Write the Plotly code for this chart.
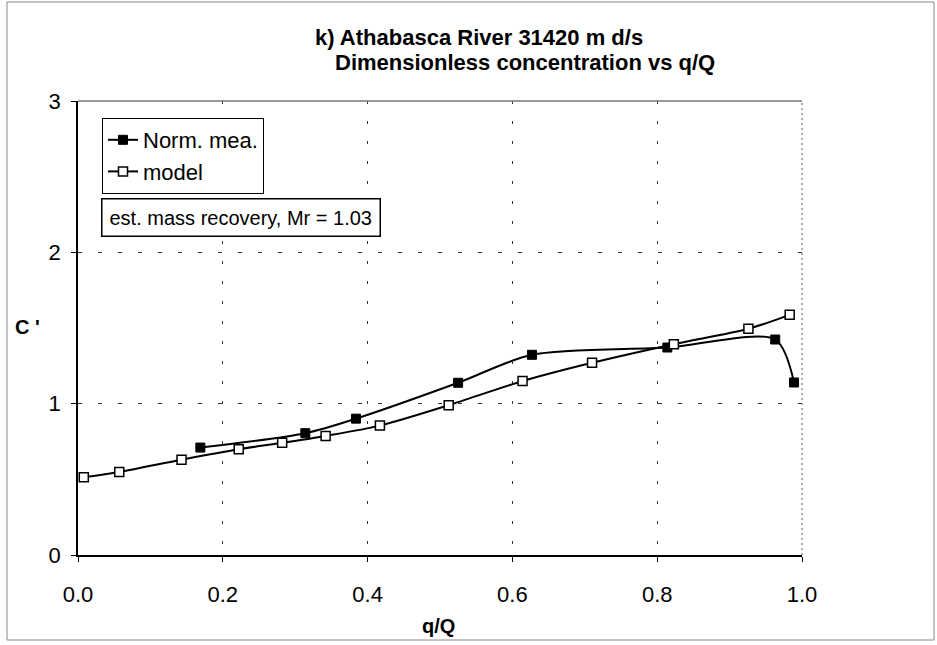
import plotly.graph_objects as go

# Data
meas_x = [0.169, 0.314, 0.384, 0.525, 0.627, 0.814, 0.963, 0.989]
meas_y = [0.710, 0.805, 0.901, 1.138, 1.323, 1.371, 1.424, 1.140]

model_x = [0.008, 0.057, 0.143, 0.222, 0.282, 0.342, 0.417, 0.512,
           0.614, 0.710, 0.823, 0.926, 0.983]
model_y = [0.514, 0.549, 0.630, 0.699, 0.741, 0.787, 0.855, 0.990,
           1.149, 1.270, 1.393, 1.495, 1.587]

x_ticks = [0.0, 0.2, 0.4, 0.6, 0.8, 1.0]
x_tick_labels = ["0.0", "0.2", "0.4", "0.6", "0.8", "1.0"]
y_ticks = [0, 1, 2, 3]
y_tick_labels = ["0", "1", "2", "3"]

title_line1 = "k) Athabasca River 31420 m d/s"
title_line2 = "Dimensionless concentration vs q/Q"
note_text = "est. mass recovery, Mr = 1.03"
x_title = "q/Q"
y_title = "C '"

W, H = 937, 645
L, R, T, B = 78, 135, 101, 90
PW, PH = W - L - R, H - T - B

def px(xp):
    return (xp - L) / PW

def py(yp):
    return (H - B - yp) / PH

FONT = "Liberation Sans, Arial, Helvetica, sans-serif"

fig = go.Figure()
fig.add_trace(go.Scatter(
    x=meas_x, y=meas_y, name="Norm. mea.", mode="lines+markers",
    line=dict(color="black", width=2, shape="spline", smoothing=0.8),
    marker=dict(symbol="square", size=9, color="black",
                line=dict(color="black", width=1)),
))
fig.add_trace(go.Scatter(
    x=model_x, y=model_y, name="model", mode="lines+markers",
    line=dict(color="black", width=2, shape="spline", smoothing=0.8),
    marker=dict(symbol="square", size=9, color="white",
                line=dict(color="black", width=1.5)),
))

fig.update_layout(
    width=W, height=H,
    margin=dict(l=L, r=R, t=T, b=B, autoexpand=False),
    paper_bgcolor="white", plot_bgcolor="white",
    font=dict(family=FONT, size=22, color="black"),
    showlegend=True,
    legend=dict(
        x=px(102), y=py(118), xanchor="left", yanchor="top",
        bordercolor="black", borderwidth=1, bgcolor="white",
        font=dict(size=22), itemwidth=30, tracegroupgap=0,
    ),
    xaxis=dict(
        range=[0, 1], tickvals=x_ticks, ticktext=x_tick_labels,
        showgrid=True, gridcolor="#333", griddash="3px,17px", gridwidth=1,
        showline=True, linecolor="black", linewidth=1.5,
        ticks="outside", ticklen=5, tickcolor="black",
        ticklabelstandoff=14, zeroline=False, automargin=False,
        tickfont=dict(size=22),
    ),
    yaxis=dict(
        range=[0, 3], tickvals=y_ticks, ticktext=y_tick_labels,
        showgrid=True, gridcolor="#333", griddash="4px,16px", gridwidth=1,
        showline=True, linecolor="black", linewidth=1.5,
        ticks="outside", ticklen=5, tickcolor="black",
        ticklabelstandoff=6, zeroline=False, automargin=False,
        tickfont=dict(size=22),
    ),
)

# top border (solid gray) and right border (dotted)
fig.add_shape(type="line", xref="paper", yref="paper",
              x0=0, x1=1, y0=1, y1=1, line=dict(color="#777", width=1.5))
fig.add_shape(type="line", xref="paper", yref="paper",
              x0=1, x1=1, y0=0, y1=1,
              line=dict(color="#777", width=1.2, dash="2px,3px"))

fig.add_annotation(
    text="<b>" + title_line1 + "</b>", xref="paper", yref="paper",
    x=px(313), y=py(37), xanchor="left", yanchor="middle",
    showarrow=False, font=dict(size=22),
)
fig.add_annotation(
    text="<b>" + title_line2 + "</b>", xref="paper", yref="paper",
    x=px(333), y=py(62), xanchor="left", yanchor="middle",
    showarrow=False, font=dict(size=22),
)
fig.add_annotation(
    text="<b>" + x_title + "</b>", xref="paper", yref="paper",
    x=px(438), y=py(626), xanchor="center", yanchor="middle",
    showarrow=False, font=dict(size=20),
)
fig.add_annotation(
    text="<b>" + y_title + "</b>", xref="paper", yref="paper",
    x=px(13), y=py(327), xanchor="left", yanchor="middle",
    showarrow=False, font=dict(size=20),
)
fig.add_annotation(
    text=note_text, xref="paper", yref="paper",
    x=px(101), y=py(198), xanchor="left", yanchor="top",
    showarrow=False, font=dict(size=20),
    bordercolor="black", borderwidth=1.5, borderpad=7, bgcolor="white",
)

# outer chart border
fig.add_shape(type="rect", xref="paper", yref="paper",
              x0=px(7), x1=px(934), y0=py(640), y1=py(2),
              line=dict(color="#888", width=1), layer="below")

fig.write_html("out.html")
